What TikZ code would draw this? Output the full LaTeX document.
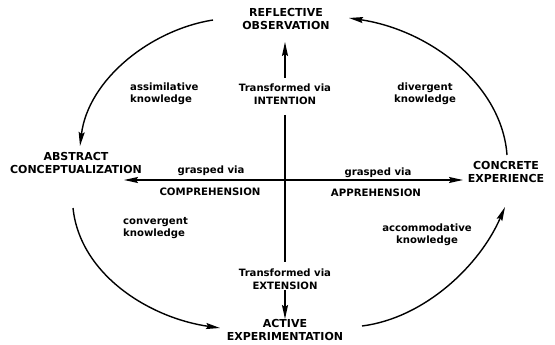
\documentclass[tikz,border=0pt]{standalone}
\usepackage{fontspec}
\setmainfont{DejaVu Sans}
\usetikzlibrary{arrows.meta}
\begin{document}
\begin{tikzpicture}[x=1pt,y=-1pt,
  bigtxt/.style={font=\fontsize{11}{13.5}\selectfont\bfseries, align=center, inner sep=0pt},
  smalltxt/.style={font=\fontsize{10.1}{12.5}\selectfont\bfseries, align=center, inner sep=0pt},
  captxt/.style={font=\fontsize{10.2}{12.5}\selectfont\bfseries, align=center, inner sep=0pt},
  conn/.style={line width=1.4pt, -{Stealth[length=14pt,width=6pt,inset=2pt]}},
  plainline/.style={line width=1.1pt}]
\useasboundingbox (0,0) rectangle (555,345);
% main nodes
\node[bigtxt] (refl) at (286,19) {REFLECTIVE\\OBSERVATION};
\node[bigtxt] (abst) at (76,163) {ABSTRACT\\CONCEPTUALIZATION};
\node[bigtxt] (conc) at (506,172) {CONCRETE\\EXPERIENCE};
\node[bigtxt] (actv) at (285,330) {ACTIVE\\EXPERIMENTATION};
% inner labels
\node[smalltxt] (intent) at (285,94) {Transformed via\\INTENTION};
\node[smalltxt] (extens) at (285,279) {Transformed via\\EXTENSION};
\node[smalltxt] (gl) at (211,171) {grasped via};
\node[captxt] (compr) at (210,192) {COMPREHENSION};
\node[smalltxt] (gr) at (378,173) {grasped via};
\node[captxt] (appr) at (376,193) {APPREHENSION};
\node[smalltxt, align=left, anchor=west] (assim) at (130,94) {assimilative\\knowledge};
\node[smalltxt] (diverg) at (425,94) {divergent\\knowledge};
\node[smalltxt, align=left, anchor=west] (converg) at (123,228) {convergent\\knowledge};
\node[smalltxt] (accom) at (427,235) {accommodative\\knowledge};
% coordinates
\coordinate (c) at (285,180);
\coordinate (hl) at (124,180);
\coordinate (hr) at (463,180);
\coordinate (vt) at (285,115);
\coordinate (vb) at (285,262);
\coordinate (ua) at (285,78);
\coordinate (ub) at (285,42);
\coordinate (da) at (285,290);
\coordinate (db) at (285,319);
\coordinate (r1) at (213,20);
\coordinate (a1) at (80,146);
\coordinate (c1) at (507,155);
\coordinate (r2) at (349,18);
\coordinate (a2) at (73,208);
\coordinate (e1) at (220,328);
\coordinate (e2) at (362,326);
\coordinate (c2) at (505,207);
% axes
\draw[conn] (c) -- (hl);
\draw[conn] (c) -- (hr);
\draw[plainline] (vt) -- (vb);
\draw[conn] (ua) -- (ub);
\draw[conn] (da) -- (db);
% cycle curves
\draw[conn] (r1) .. controls (150,30) and (88,80) .. (a1);
\draw[conn] (c1) .. controls (502,85) and (430,30) .. (r2);
\draw[conn] (a2) .. controls (80,275) and (150,318) .. (e1);
\draw[conn] (e2) .. controls (425,318) and (480,265) .. (c2);
\end{tikzpicture}
\end{document}
